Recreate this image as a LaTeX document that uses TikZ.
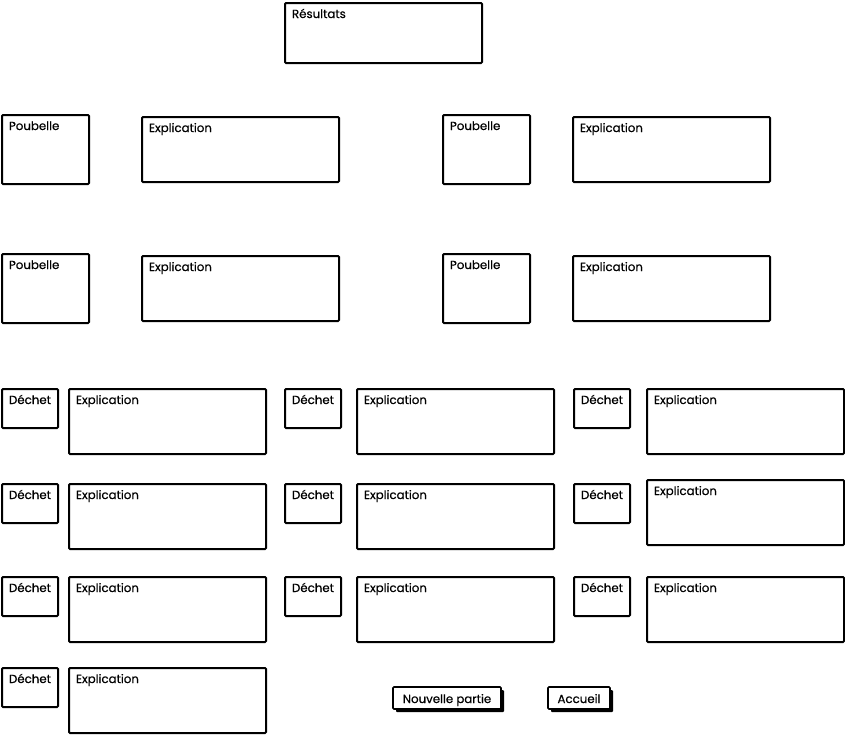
\documentclass[tikz,border=0pt]{standalone}
\usepackage{fontspec}
\setmainfont{Poppins}[FakeBold=0.5]
\usetikzlibrary{shadows}

\begin{document}
\begin{tikzpicture}[x=1pt, y=-1pt,
    cadre/.style={draw, line width=2pt, rounded corners=1pt, anchor=north west, align=left,
      inner xsep=7pt, inner ysep=0pt, text height=15pt, font=\fontsize{11.8}{13}\selectfont},
    titre/.style={cadre, text width=183pt, text depth=45pt},
    poubelle/.style={cadre, text width=73pt, text depth=54pt},
    explication/.style={cadre, text width=183pt, text depth=50pt},
    dechet/.style={cadre, text width=42pt, text depth=24pt},
    bouton/.style={draw, fill=white, line width=1.6pt, rounded corners=1pt, minimum height=22pt,
      inner ysep=0pt, text height=11pt, text depth=1pt, font=\fontsize{11.8}{13}\selectfont,
      drop shadow={shadow xshift=3pt, shadow yshift=-3pt, fill=black, opacity=1}}]
    \useasboundingbox (0,0) rectangle (845,734);

    % 标题
    \node[titre] (res) at (284,2) {Résultats};

    % 垃圾桶和解释
    \node[poubelle] (p1) at (1,114) {Poubelle};
    \node[explication] (pe1) at (141,116) {Explication};
    \node[poubelle] (p2) at (442,114) {Poubelle};
    \node[explication] (pe2) at (572,116) {Explication};
    \node[poubelle] (p3) at (1,253) {Poubelle};
    \node[explication] (pe3) at (141,255) {Explication};
    \node[poubelle] (p4) at (442,253) {Poubelle};
    \node[explication] (pe4) at (572,255) {Explication};

    % 废物，第一行
    \begin{scope}[shift={(0,388)}]
    \node[dechet] (d1) at (1,0) {Déchet};
    \node[explication] (de1) at (68,0) {Explication};
    \node[dechet] (d2) at (284,0) {Déchet};
    \node[explication] (de2) at (356,0) {Explication};
    \node[dechet] (d3) at (573,0) {Déchet};
    \node[explication] (de3) at (646,0) {Explication};
    \end{scope}

    % 第二行
    \begin{scope}[shift={(0,483)}]
    \node[dechet] (d4) at (1,0) {Déchet};
    \node[explication] (de4) at (68,0) {Explication};
    \node[dechet] (d5) at (284,0) {Déchet};
    \node[explication] (de5) at (356,0) {Explication};
    \node[dechet] (d6) at (573,0) {Déchet};
    \node[explication] (de6) at (646,-4) {Explication};
    \end{scope}

    % 第三行
    \begin{scope}[shift={(0,576)}]
    \node[dechet] (d7) at (1,0) {Déchet};
    \node[explication] (de7) at (68,0) {Explication};
    \node[dechet] (d8) at (284,0) {Déchet};
    \node[explication] (de8) at (356,0) {Explication};
    \node[dechet] (d9) at (573,0) {Déchet};
    \node[explication] (de9) at (646,0) {Explication};
    \end{scope}

    % 第四行和按钮
    \node[dechet] (d10) at (1,667) {Déchet};
    \node[explication] (de10) at (68,667) {Explication};
    \node[bouton, minimum width=108pt] (nouv) at (447,698) {Nouvelle partie};
    \node[bouton, minimum width=62pt] (acc) at (579,698) {Accueil};
\end{tikzpicture}
\end{document}
